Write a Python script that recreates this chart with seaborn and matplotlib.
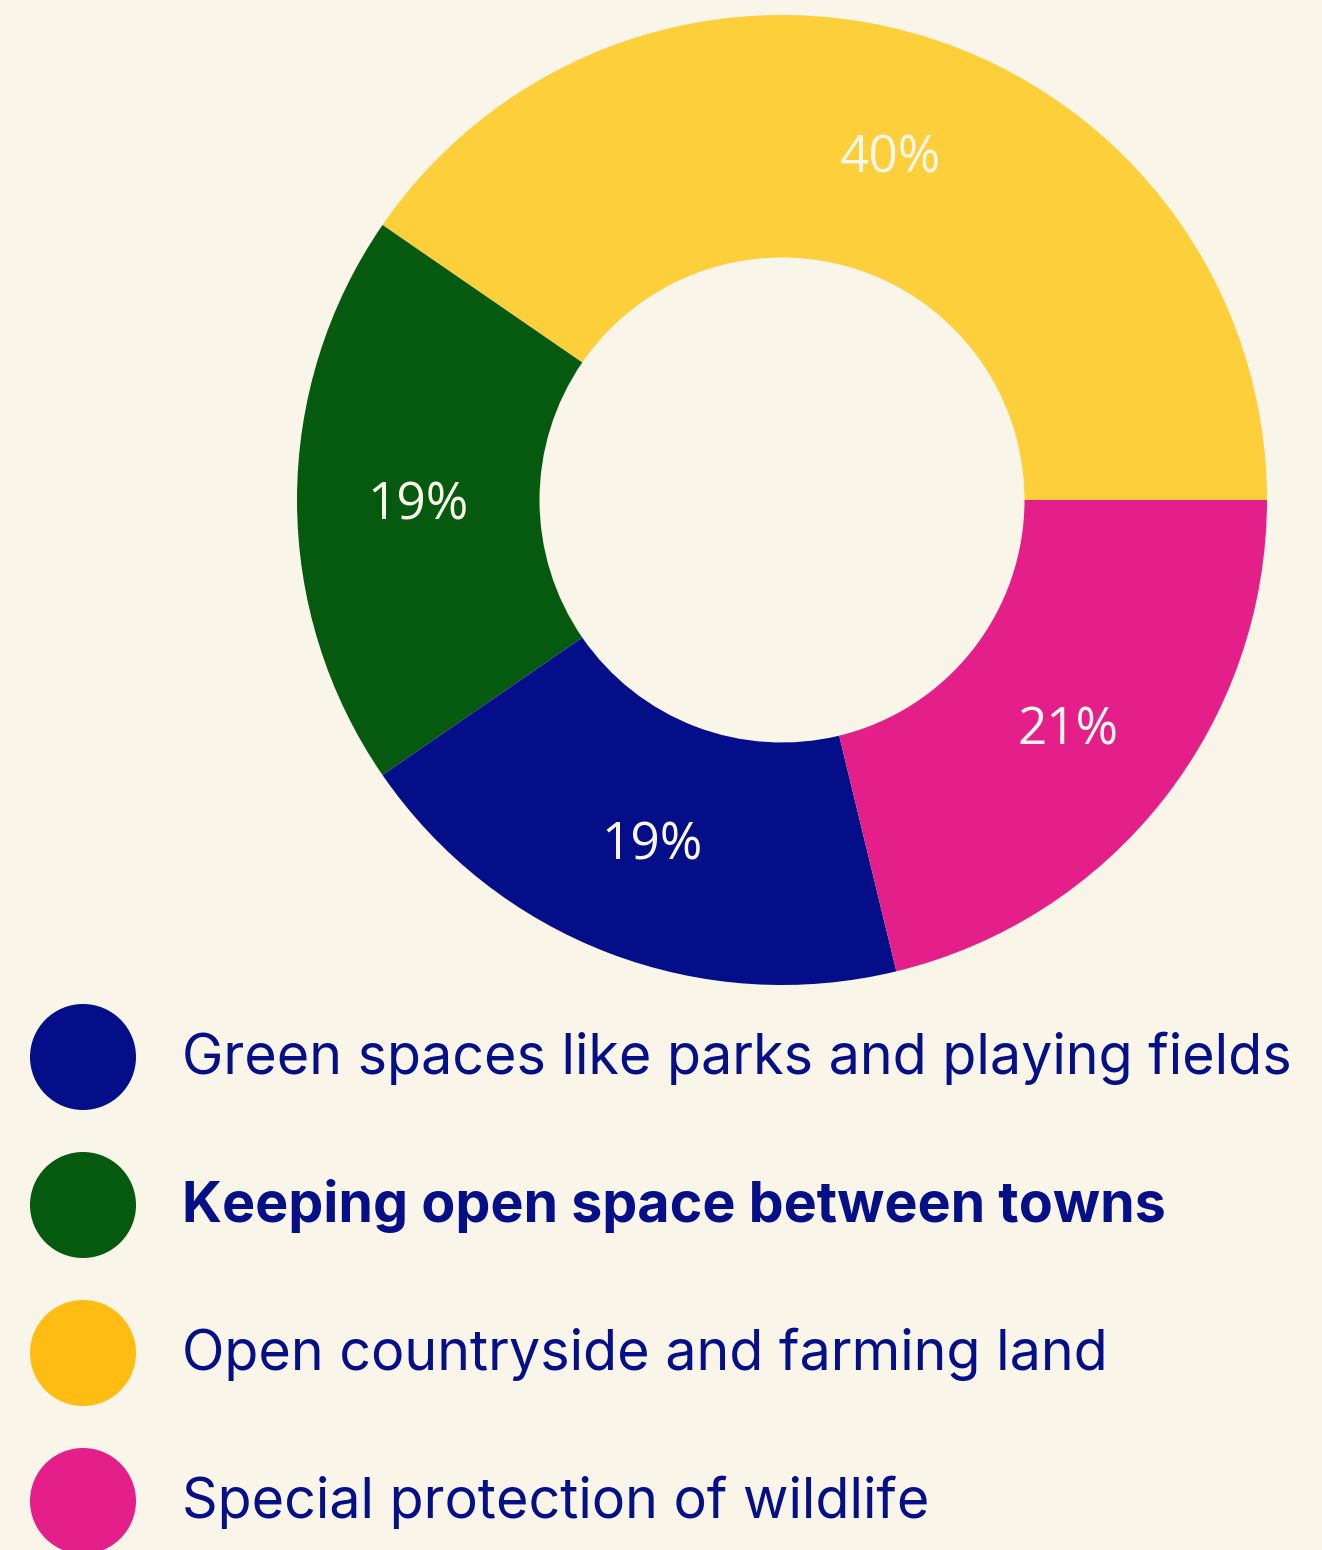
import matplotlib
matplotlib.use("Agg")
import matplotlib.pyplot as plt
import seaborn as sns
from matplotlib.patches import Circle

# ---- data ----
categories = ["Open countryside and farming land",
              "Keeping open space between towns",
              "Green spaces like parks and playing fields",
              "Special protection of wildlife"]
values = [40, 19, 19, 21]
pie_colors = ["#fdcf3a", "#065a0f", "#040e89", "#e51f89"]

legend_labels = ["Green spaces like parks and playing fields",
                 "Keeping open space between towns",
                 "Open countryside and farming land",
                 "Special protection of wildlife"]
legend_colors = ["#040e89", "#065a0f", "#ffbd14", "#e51f89"]
legend_weights = ["normal", "bold", "normal", "normal"]

BG = "#f9f5e8"
NAVY = "#050f87"

sns.set_theme(style="white")
plt.rcParams["font.family"] = ["Open Sans", "DejaVu Sans"]

W, H = 1322, 1550
fig = plt.figure(figsize=(W / 100, H / 100), dpi=100)
fig.patch.set_facecolor(BG)

# donut axes: center (782,500), radius 485 px
cx, cy, r = 782, 500, 485
ax = fig.add_axes([(cx - r) / W, (H - cy - r) / H, 2 * r / W, 2 * r / H])
ax.set_facecolor(BG)
wedges, texts, autotexts = ax.pie(
    values, colors=pie_colors, startangle=0, counterclock=True,
    wedgeprops=dict(width=0.5, edgecolor="none", linewidth=0),
    autopct="%.0f%%", pctdistance=0.75,
    textprops=dict(color="#faf6ea", fontsize=37, family=["Open Sans", "DejaVu Sans"]))
for t in autotexts:
    t.set_va("center_baseline")
ax.set_xlim(-1, 1)
ax.set_ylim(-1, 1)
ax.set_aspect("equal")
ax.axis("off")

# legend in pixel coords
lax = fig.add_axes([0, 0, 1, 1])
lax.set_xlim(0, W)
lax.set_ylim(H, 0)
lax.axis("off")
lax.patch.set_alpha(0)
y0, dy = 1057, 148
for i, (lab, col, wt) in enumerate(zip(legend_labels, legend_colors, legend_weights)):
    y = y0 + i * dy
    lax.add_patch(Circle((83, y), 53, color=col, lw=0))
    lax.text(182, y + 17, lab, color=NAVY, fontsize=40, fontweight=wt,
             ha="left", va="baseline", family=["Inter", "DejaVu Sans"])

fig.savefig("out.png", dpi=100, facecolor=BG)
